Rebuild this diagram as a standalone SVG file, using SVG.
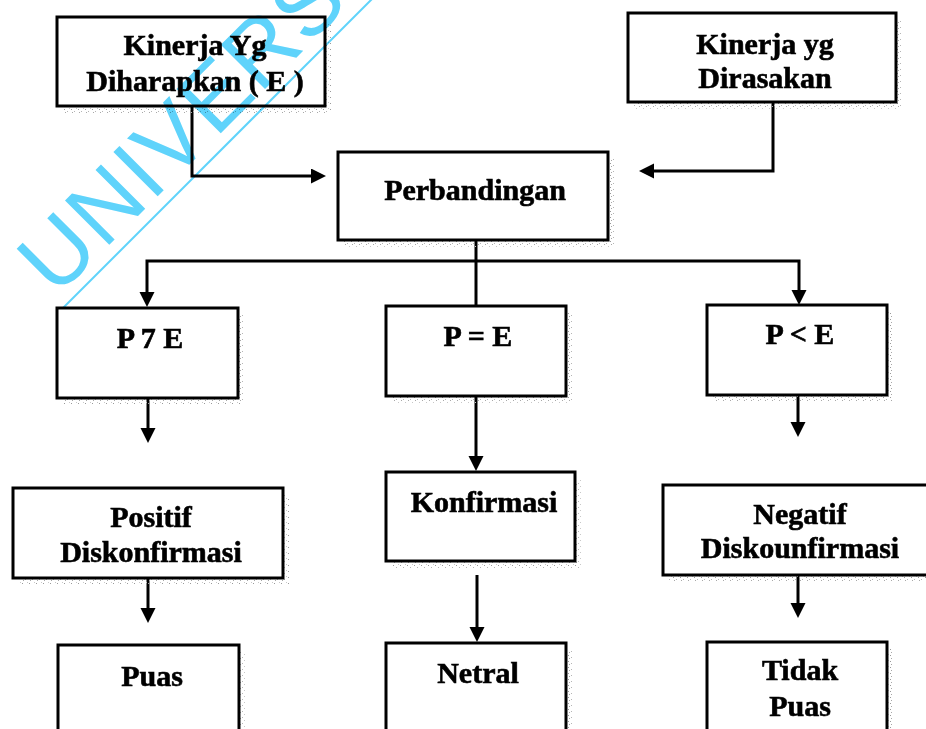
<svg xmlns="http://www.w3.org/2000/svg" width="926" height="729" viewBox="0 0 926 729">
<style>
.box{fill:#fff;stroke:#000;stroke-width:3}
.sh{fill:url(#speck)}
.lbl{font-family:"Liberation Serif","Times New Roman",serif;font-weight:bold;font-size:30px;fill:#000;stroke:#000;stroke-width:0.6;text-anchor:middle}
.con{fill:none;stroke:#000;stroke-width:3;stroke-linejoin:miter}
.arr{marker-end:url(#ah)}
.wm{font-family:"Liberation Sans",Arial,sans-serif;font-size:91px;fill:#5fd3fb;mix-blend-mode:multiply}
.wml{stroke:#5fd3fb;stroke-width:2;mix-blend-mode:multiply}
</style>
<defs>
<pattern id="speck" width="7" height="6" patternUnits="userSpaceOnUse">
<rect x="1" y="1" width="1" height="1" fill="#9a9a9a"/>
<rect x="4" y="3" width="1" height="1" fill="#b5b5b5"/>
<rect x="6" y="0" width="1" height="1" fill="#c8c8c8"/>
<rect x="2" y="4" width="1" height="1" fill="#a8a8a8"/>
</pattern>
<marker id="ah" markerUnits="userSpaceOnUse" markerWidth="16" markerHeight="16" refX="3" refY="7.5" orient="auto">
<path d="M0,0 L15,7.5 L0,15 z" fill="#000"/>
</marker>
</defs>
<rect width="926" height="729" fill="#fff"/>
<g id="connectors">
<path class="con arr" d="M192,107 V176 H314"/>
<path class="con arr" d="M773,102 V171 H651"/>
<path class="con" d="M476,240 V306"/>
<path class="con arr" d="M476,261 H147 V295"/>
<path class="con arr" d="M476,261 H799 V293"/>
<path class="con arr" d="M148,398 V431"/>
<path class="con arr" d="M476,396 V459"/>
<path class="con arr" d="M798,395 V425"/>
<path class="con arr" d="M148,578 V611"/>
<path class="con arr" d="M477,575 V630"/>
<path class="con arr" d="M798,575 V606"/>
</g>
<g id="n-harapan">
<rect class="sh" x="63" y="24" width="268" height="89"/>
<rect class="box" x="57" y="17" width="268" height="89"/>
<text class="lbl" x="195" y="55">Kinerja Yg</text>
<text class="lbl" x="195" y="91">Diharapkan ( E )</text>
</g>
<g id="n-dirasakan">
<rect class="sh" x="634" y="20" width="268" height="89"/>
<rect class="box" x="628" y="13" width="268" height="89"/>
<text class="lbl" x="765" y="54">Kinerja yg</text>
<text class="lbl" x="765" y="88">Dirasakan</text>
</g>
<g id="n-perbandingan">
<rect class="sh" x="344" y="159" width="270" height="88"/>
<rect class="box" x="338" y="152" width="270" height="88"/>
<text class="lbl" x="475" y="200">Perbandingan</text>
</g>
<g id="n-pgte">
<rect class="sh" x="63" y="315" width="181" height="90"/>
<rect class="box" x="57" y="308" width="181" height="90"/>
<text class="lbl" x="150" y="348">P 7 E</text>
</g>
<g id="n-peqe">
<rect class="sh" x="392" y="313" width="180" height="90"/>
<rect class="box" x="386" y="306" width="180" height="90"/>
<text class="lbl" x="478" y="346">P = E</text>
</g>
<g id="n-plte">
<rect class="sh" x="713" y="312" width="180" height="90"/>
<rect class="box" x="707" y="305" width="180" height="90"/>
<text class="lbl" x="800" y="344">P &lt; E</text>
</g>
<g id="n-positif">
<rect class="sh" x="19" y="495" width="270" height="90"/>
<rect class="box" x="13" y="488" width="270" height="90"/>
<text class="lbl" x="151" y="527">Positif</text>
<text class="lbl" x="151" y="562">Diskonfirmasi</text>
</g>
<g id="n-konfirmasi">
<rect class="sh" x="392" y="479" width="189" height="89"/>
<rect class="box" x="386" y="472" width="189" height="89"/>
<text class="lbl" x="484" y="512">Konfirmasi</text>
</g>
<g id="n-negatif">
<rect class="sh" x="669" y="492" width="275" height="90"/>
<rect class="box" x="663" y="485" width="275" height="90"/>
<text class="lbl" x="800" y="524">Negatif</text>
<text class="lbl" x="800" y="558">Diskounfirmasi</text>
</g>
<g id="n-puas">
<rect class="sh" x="64" y="652" width="181" height="100"/>
<rect class="box" x="58" y="645" width="181" height="100"/>
<text class="lbl" x="152" y="686">Puas</text>
</g>
<g id="n-netral">
<rect class="sh" x="392" y="650" width="180" height="100"/>
<rect class="box" x="386" y="643" width="180" height="100"/>
<text class="lbl" x="478" y="683">Netral</text>
</g>
<g id="n-tidakpuas">
<rect class="sh" x="713" y="649" width="180" height="100"/>
<rect class="box" x="707" y="642" width="180" height="100"/>
<text class="lbl" x="800" y="680">Tidak</text>
<text class="lbl" x="800" y="716">Puas</text>
</g>
<g id="watermark">
<line class="wml" x1="63" y1="308" x2="375" y2="-4"/>
<text class="wm" transform="translate(56,298) rotate(-45)" x="0" y="0" letter-spacing="2">UNIVERSI</text>
</g>
</svg>
